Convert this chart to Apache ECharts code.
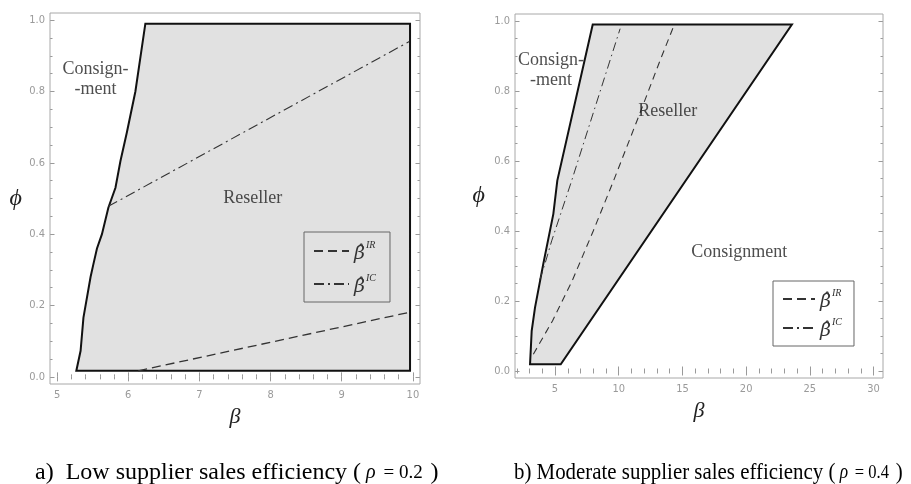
<!DOCTYPE html>
<html><head><meta charset="utf-8">
<script src="https://cdn.jsdelivr.net/npm/echarts@6/dist/echarts.min.js"></script>
<style>html,body{margin:0;padding:0;background:#fff}#c{width:911px;height:484px}</style>
</head><body><div id="c"></div>
<script>
// ---------- Panel a) rho = 0.2 ----------
const aRegionBeta = [5.27, 5.33, 5.37, 5.47, 5.51, 5.56, 5.63, 5.72, 5.82, 5.89, 5.98, 6.10, 6.24, 9.96, 9.96];
const aRegionPhi  = [0.017, 0.073, 0.166, 0.28, 0.316, 0.36, 0.40, 0.474, 0.53, 0.605, 0.685, 0.80, 0.99, 0.99, 0.017];
const aIRBeta = [6.14, 9.93];
const aIRPhi  = [0.017, 0.18];
const aICBeta = [5.72, 9.95];
const aICPhi  = [0.478, 0.94];
const aLabelText = ['Consign-\n-ment', 'Reseller'];
const aLabelBeta = [5.54, 7.75];
const aLabelPhi  = [0.833, 0.50];
const aXTicks = [5, 6, 7, 8, 9, 10];

// ---------- Panel b) rho = 0.4 ----------
const bRegionBeta = [3.04, 3.17, 3.43, 4.08, 4.87, 5.18, 7.96, 23.59, 5.45];
const bRegionPhi  = [0.019, 0.115, 0.181, 0.306, 0.449, 0.544, 0.99, 0.99, 0.019];
const bIRBeta = [3.30, 4.80, 6.35, 8.0, 9.6, 11.7, 13.2, 14.29];
const bIRPhi  = [0.048, 0.143, 0.258, 0.40, 0.544, 0.74, 0.883, 0.983];
const bICBeta = [3.8, 4.21, 4.74, 6.31, 10.11];
const bICPhi  = [0.26, 0.306, 0.372, 0.544, 0.978];
const bLabelText = ['Consign-\n-ment', 'Reseller', 'Consignment'];
const bLabelBeta = [4.69, 13.84, 19.45];
const bLabelPhi  = [0.859, 0.741, 0.338];
const bXTicks = [5, 10, 15, 20, 25, 30];

const yTicks = [0, 0.2, 0.4, 0.6, 0.8, 1.0];
const seriesNames = ['IR', 'IC'];
const captionA = ['a)  Low supplier sales efficiency (', 'ρ', ' = 0.2 ', ')'];
const captionB = ['b) Moderate supplier sales efficiency (', 'ρ', ' = 0.4 ', ')'];

// minor tick positions (decoration only)
function minorTicks(from, to, step, majorStep) {
  const out = [];
  const n = Math.round((to - from) / step);
  for (let i = 0; i <= n; i++) {
    const v = Math.round((from + i * step) * 1000) / 1000;
    const r = v / majorStep;
    if (Math.abs(r - Math.round(r)) > 1e-6) out.push(v);
  }
  return out;
}
const aXMinor = minorTicks(5, 10, 0.2, 1);
const bXMinor = minorTicks(2, 30, 1, 5);
const yMinor = minorTicks(0, 1, 0.05, 0.2);

const zip = (xs, ys) => xs.map((x, i) => [x, ys[i]]);

const TICK = '#9a9a9a';
function axes(dim, grid, min, max, majors, minors, fmt, name, nameGap, nameStyle) {
  const pos = dim === 'x' ? ['bottom', 'top'] : ['left', 'right'];
  const base = {type: 'value', gridIndex: grid, min: min, max: max,
    axisLine: {show: false}, splitLine: {show: false}};
  const list = [];
  [0, 1].forEach(side => {
    [true, false].forEach(isMajor => {
      const ax = Object.assign({}, base, {
        position: pos[side],
        axisTick: {show: true, inside: true, length: isMajor ? 4.5 : 2.5,
          customValues: isMajor ? majors : minors, lineStyle: {color: TICK, width: 1}},
        axisLabel: (side === 0 && isMajor) ? {show: true, customValues: majors, formatter: fmt,
          color: '#9a9a9a', fontSize: 11, fontFamily: 'Liberation Sans Narrow, DejaVu Sans Condensed, sans-serif',
          margin: dim === 'x' ? 6 : 5} : {show: false}
      });
      if (side === 0 && isMajor) {
        ax.name = name; ax.nameLocation = 'middle'; ax.nameGap = nameGap;
        ax.nameTextStyle = nameStyle;
        if (dim === 'y') ax.nameRotate = 0;
      }
      list.push(ax);
    });
  });
  return list;
}
const nameFont = {fontFamily: 'Liberation Serif, serif', fontStyle: 'italic', color: '#222'};
const xFmtInt = v => String(Math.round(v));
const yFmt = v => v.toFixed(1);

const xAxes = [].concat(
  axes('x', 0, 4.9, 10.1, aXTicks, aXMinor, xFmtInt, 'β', 11, Object.assign({fontSize: 22}, nameFont)),
  axes('x', 1, 1.86, 30.74, bXTicks, bXMinor, xFmtInt, 'β', 17, Object.assign({fontSize: 22}, nameFont))
);
const yAxes = [].concat(
  axes('y', 0, -0.02, 1.02, yTicks, yMinor, yFmt, '\u03D5', 28, Object.assign({fontSize: 24, padding: [0, 0, 18, 0]}, nameFont)),
  axes('y', 1, -0.02, 1.02, yTicks, yMinor, yFmt, '\u03D5', 30, Object.assign({fontSize: 24, padding: [0, 0, 10, 0]}, nameFont))
);

function regionSeries(xi, yi, pts) {
  return {type: 'custom', xAxisIndex: xi, yAxisIndex: yi, silent: true, z: 1,
    data: pts, encode: {x: 0, y: 1},
    renderItem: (params, api) => {
      if (params.dataIndex !== 0) return null;
      return {type: 'polygon', shape: {points: pts.map(p => api.coord(p))},
        style: {fill: '#e1e1e1', stroke: '#111', lineWidth: 2, lineJoin: 'miter'}};
    }};
}
function lineSeries(name, xi, yi, pts, dash, w) {
  return {type: 'line', name: name, xAxisIndex: xi, yAxisIndex: yi, data: pts,
    showSymbol: false, symbol: 'none', silent: true, z: 3, smooth: false,
    itemStyle: {color: '#333'},
    lineStyle: {color: '#333', width: w, type: dash}};
}
function labelSeries(xi, yi, texts, xs, ys) {
  return {type: 'scatter', xAxisIndex: xi, yAxisIndex: yi, symbolSize: 0, silent: true, z: 4,
    data: texts.map((t, i) => ({name: t, value: [xs[i], ys[i]]})),
    label: {show: true, position: 'inside', formatter: '{b}', color: '#222',
      fontFamily: 'Liberation Serif, serif', fontSize: 18, lineHeight: 20, align: 'center'}};
}

const legendRich = {
  b: {fontFamily: 'DejaVu Serif, serif', fontStyle: 'italic', fontSize: 19, lineHeight: 26, color: '#333', verticalAlign: 'bottom'},
  s: {fontFamily: 'Liberation Serif, serif', fontStyle: 'italic', fontSize: 10, lineHeight: 26, color: '#333', verticalAlign: 'top', padding: [2, 0, 0, 1]}
};
const legendFmt = n => '{b|\u03B2\u0302}{s|' + n + '}';

const capRich = (fs) => ({
  n: {fontFamily: 'Liberation Serif, serif', fontSize: fs, color: '#111', lineHeight: 26},
  r: {fontFamily: 'Liberation Serif, serif', fontStyle: 'italic', fontSize: 20, color: '#111', lineHeight: 26, padding: [0, 3, 0, 5]},
  m: {fontFamily: 'Liberation Serif, serif', fontSize: 19, color: '#111', lineHeight: 26, padding: [0, 3, 0, 0]}
});
const capText = c => '{n|' + c[0] + '}{r|' + c[1] + '}{m|' + c[2] + '}{n|' + c[3] + '}';

const chart = echarts.init(document.getElementById('c'), null, {renderer: 'canvas'});
chart.setOption({
  animation: false,
  backgroundColor: '#fff',
  grid: [
    {left: 50, top: 13, width: 370, height: 371, show: true, borderColor: '#a8a8a8', borderWidth: 1, backgroundColor: 'transparent', z: 5},
    {left: 515, top: 14, width: 368, height: 364, show: true, borderColor: '#a8a8a8', borderWidth: 1, backgroundColor: 'transparent', z: 5}
  ],
  xAxis: xAxes,
  yAxis: yAxes,
  legend: [
    {data: seriesNames, orient: 'vertical', left: 304, top: 232, itemWidth: 35, itemHeight: 14, itemGap: 7,
     padding: [6, 14, 5, 9], borderColor: '#666', borderWidth: 1, backgroundColor: '#e1e1e1',
     itemStyle: {opacity: 0}, selectedMode: false, formatter: legendFmt, textStyle: {rich: legendRich}},
    {data: seriesNames, orient: 'vertical', left: 773, top: 281, itemWidth: 32, itemHeight: 14, itemGap: 3,
     padding: [5, 12, 5, 9], borderColor: '#666', borderWidth: 1, backgroundColor: '#fff',
     itemStyle: {opacity: 0}, selectedMode: false, formatter: legendFmt, textStyle: {rich: legendRich}}
  ],
  series: [
    regionSeries(0, 0, zip(aRegionBeta, aRegionPhi)),
    lineSeries('IR', 0, 0, zip(aIRBeta, aIRPhi), [9, 5], 1.3),
    lineSeries('IC', 0, 0, zip(aICBeta, aICPhi), [10, 4, 2, 4], 1.1),
    labelSeries(0, 0, aLabelText, aLabelBeta, aLabelPhi),
    regionSeries(4, 4, zip(bRegionBeta, bRegionPhi)),
    lineSeries('IR', 4, 4, zip(bIRBeta, bIRPhi), [7, 5], 1.1),
    lineSeries('IC', 4, 4, zip(bICBeta, bICPhi), [9, 4, 1.5, 4], 1.0),
    labelSeries(4, 4, bLabelText, bLabelBeta, bLabelPhi)
  ],
  graphic: [
    {type: 'text', x: 35, y: 460, silent: true,
     style: {text: capText(captionA), rich: capRich(24), textVerticalAlign: 'top'}},
    {type: 'text', x: 514, y: 460, scaleX: 0.87, silent: true,
     style: {text: capText(captionB), rich: capRich(24), textVerticalAlign: 'top'}}
  ]
});
</script></body></html>
